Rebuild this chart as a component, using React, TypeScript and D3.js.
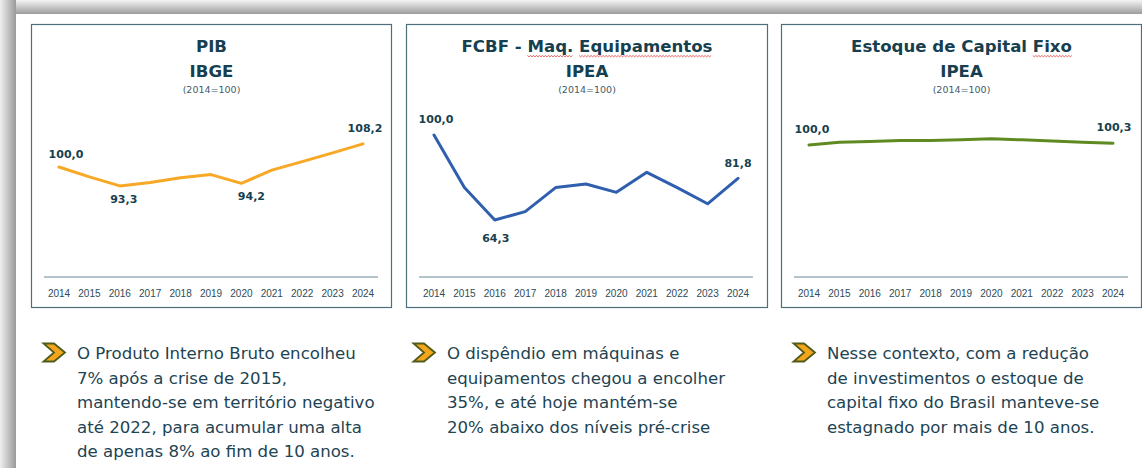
import React, { useLayoutEffect, useRef, useState } from "react";
import * as d3 from "d3";

const years = ["2014","2015","2016","2017","2018","2019","2020","2021","2022","2023","2024"];
const pibValues = [100.0, 96.5, 93.3, 94.5, 96.2, 97.3, 94.2, 98.9, 101.9, 105.0, 108.2];
const fbcfValues = [100.0, 77.9, 64.3, 67.8, 77.9, 79.4, 75.9, 84.3, 77.9, 71.1, 81.8];
const estoqueValues = [100.0, 100.5, 100.6, 100.8, 100.8, 100.9, 101.1, 100.9, 100.7, 100.5, 100.3];

// title words; words flagged true get the spell-check underline seen in the reference
const pibTitle: [string, boolean][][] = [[["PIB", false]], [["IBGE", false]]];
const fbcfTitle: [string, boolean][][] = [
  [["FCBF", false], ["-", false], ["Maq.", true], ["Equipamentos", true]],
  [["IPEA", false]],
];
const estoqueTitle: [string, boolean][][] = [
  [["Estoque", false], ["de", false], ["Capital", false], ["Fixo", true]],
  [["IPEA", false]],
];
const baseLabel = "(2014=100)";

const pibLabelIdx = [0, 2, 6, 10];
const fbcfLabelIdx = [0, 2, 10];
const estoqueLabelIdx = [0, 10];

const pibText = [
  "O Produto Interno Bruto encolheu",
  "7% após a crise de 2015,",
  "mantendo-se em território negativo",
  "até 2022, para acumular uma alta",
  "de apenas 8% ao fim de 10 anos.",
];
const fbcfText = [
  "O dispêndio em máquinas e",
  "equipamentos chegou a encolher",
  "35%, e até hoje mantém-se",
  "20% abaixo dos níveis pré-crise",
];
const estoqueText = [
  "Nesse contexto, com a redução",
  "de investimentos o estoque de",
  "capital fixo do Brasil manteve-se",
  "estagnado por mais de 10 anos.",
];

const fmt = (v: number) => v.toFixed(1).replace(".", ",");

const DARK = "#173f4f";
const FONT = "'DejaVu Sans', sans-serif";

type Panel = {
  left: number;
  width: number;
  title: [string, boolean][][];
  values: number[];
  color: string;
  yDomain: [number, number];
  yRange: [number, number];
  labelIdx: number[];
  labelOffsets: [number, number][];
  text: string[];
  textX: number;
};

const panels: Panel[] = [
  {
    left: 31, width: 361, title: pibTitle, values: pibValues, color: "#f7a825",
    yDomain: [60, 120], yRange: [279.8, 110.6], labelIdx: pibLabelIdx,
    labelOffsets: [[7, -9], [4, 17], [10, 17], [2, -12]], text: pibText, textX: 77,
  },
  {
    left: 406, width: 362, title: fbcfTitle, values: fbcfValues, color: "#2f5fae",
    yDomain: [40, 110], yRange: [277.8, 111.2], labelIdx: fbcfLabelIdx,
    labelOffsets: [[2, -12], [1, 22], [0, -11]], text: fbcfText, textX: 447,
  },
  {
    left: 781, width: 361, title: estoqueTitle, values: estoqueValues, color: "#5f8a22",
    yDomain: [95, 105], yRange: [173.5, 116.5], labelIdx: estoqueLabelIdx,
    labelOffsets: [[3, -12], [1, -12]], text: estoqueText, textX: 827,
  },
];

const TOP = 24, BOTTOM = 307, AXIS_Y = 277;
const TITLE_SIZE = 16.6;

function PanelView({ p }: { p: Panel }) {
  const x = d3.scalePoint<string>().domain(years).range([p.left + 28, p.left + 332]);
  const y = d3.scaleLinear().domain(p.yDomain).range(p.yRange);
  const line = d3.line<number>().x((_, i) => x(years[i])!).y((v) => y(v));
  const cx = p.left + p.width / 2;
  return (
    <g>
      <rect x={p.left + 0.5} y={TOP + 0.5} width={p.width - 1} height={BOTTOM - TOP} fill="#fff" stroke="#4d6f7c" strokeWidth={1.2} />
      {p.title.map((words, li) => (
        <text key={li} x={cx} y={52 + li * 25} textAnchor="middle" fontFamily={FONT} fontWeight="bold" fontSize={TITLE_SIZE} fill={DARK}>
          {words.map(([w, flag], wi) => (
            <tspan key={wi} className={flag ? "misspelled" : undefined} data-baseline={52 + li * 25}>{(wi > 0 ? " " : "") + w}</tspan>
          ))}
        </text>
      ))}
      <text x={cx} y={93} textAnchor="middle" fontFamily={FONT} fontSize={9.5} fill="#3f5c68">{baseLabel}</text>
      <line x1={p.left + 13} x2={p.left + 347} y1={AXIS_Y} y2={AXIS_Y} stroke="#6a8a96" strokeWidth={1.2} />
      {years.map((yr) => (
        <text key={yr} x={x(yr)} y={297} textAnchor="middle" fontFamily="'Liberation Sans', Arial, sans-serif" fontSize={10} fill="#2d4b58">{yr}</text>
      ))}
      <path d={line(p.values) || ""} fill="none" stroke={p.color} strokeWidth={3} strokeLinejoin="round" strokeLinecap="round" />
      {p.labelIdx.map((idx, k) => (
        <text key={idx} x={x(years[idx])! + p.labelOffsets[k][0]} y={y(p.values[idx]) + p.labelOffsets[k][1]} textAnchor="middle"
          fontFamily={FONT} fontWeight="bold" fontSize={11} fill={DARK}>{fmt(p.values[idx])}</text>
      ))}
      <g transform={`translate(${p.textX - 34},343)`}>
        <path d="M0.5,0.5 L11,0.5 L22,9.5 L11,18.5 L0.5,18.5 L11,9.5 Z" fill="#f5a51c" stroke="#4e5b1b" strokeWidth={1.8} strokeLinejoin="miter" />
      </g>
      {p.text.map((t, i) => (
        <text key={i} x={p.textX} y={359 + i * 24.5} fontFamily={FONT} fontSize={16.6} fill="#1d4453">{t}</text>
      ))}
    </g>
  );
}

export default function App() {
  const ref = useRef<SVGSVGElement>(null);
  const [squiggles, setSquiggles] = useState<{ x0: number; x1: number; y: number }[]>([]);
  useLayoutEffect(() => {
    if (!ref.current) return;
    const out: { x0: number; x1: number; y: number }[] = [];
    d3.select(ref.current).selectAll<SVGTSpanElement, unknown>("tspan.misspelled").each(function () {
      const n = this.getNumberOfChars();
      const txt = this.textContent || "";
      const startIdx = txt.startsWith(" ") ? 1 : 0;
      const s = this.getStartPositionOfChar(startIdx).x;
      const e = this.getEndPositionOfChar(n - 1).x;
      out.push({ x0: s, x1: e, y: Number(this.getAttribute("data-baseline")) + 3.5 });
    });
    setSquiggles(out);
  }, []);
  const wave = (x0: number, x1: number, yy: number) => {
    const pts: [number, number][] = [];
    for (let xx = x0, k = 0; xx <= x1; xx += 1.5, k++) pts.push([xx, yy + (k % 2 === 0 ? 0 : 1.3)]);
    return d3.line()(pts) || "";
  };
  return (
    <svg ref={ref} width={1142} height={468} style={{ position: "absolute", left: 0, top: 0 }}>
      <defs>
        <linearGradient id="topShade" x1="0" y1="0" x2="0" y2="1">
          <stop offset="0" stopColor="#f4f4f4" />
          <stop offset="1" stopColor="#9c9c9c" />
        </linearGradient>
        <linearGradient id="leftShade" x1="0" y1="0" x2="1" y2="0">
          <stop offset="0" stopColor="#efefef" />
          <stop offset="1" stopColor="#9a9a9a" />
        </linearGradient>
      </defs>
      <rect x={0} y={0} width={1142} height={468} fill="#fff" />
      <rect x={0} y={0} width={1142} height={14} fill="url(#topShade)" />
      <rect x={0} y={0} width={16} height={468} fill="url(#leftShade)" />
      {panels.map((p, i) => <PanelView key={i} p={p} />)}
      {squiggles.map((s, i) => (
        <path key={i} d={wave(s.x0, s.x1, s.y)} fill="none" stroke="#e03a3a" strokeWidth={0.8} />
      ))}
    </svg>
  );
}
